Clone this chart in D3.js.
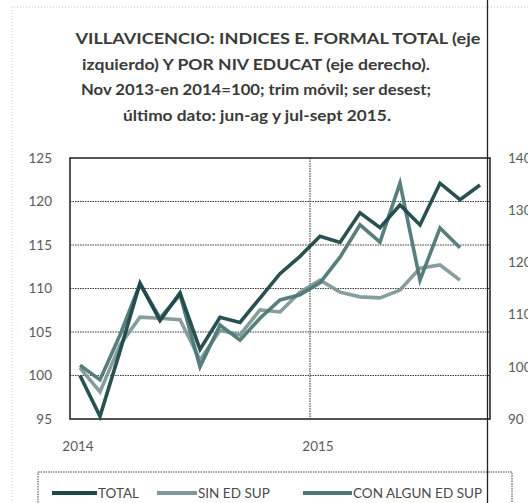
<!DOCTYPE html>
<html>
<head>
<meta charset="utf-8">
<script src="https://cdn.jsdelivr.net/npm/d3@7"></script>
<style>
  body { margin: 0; background: #fff; }
  svg { display: block; font-family: Lato, "Open Sans", sans-serif; }
</style>
</head>
<body>
<div class="card"></div>
<script>
// months, jan 2014 .. sep 2015 (trim movil)
var months = ["ene 2014", "feb 2014", "mar 2014", "abr 2014", "may 2014", "jun 2014",
  "jul 2014", "ago 2014", "sep 2014", "oct 2014", "nov 2014", "dic 2014",
  "ene 2015", "feb 2015", "mar 2015", "abr 2015", "may 2015", "jun 2015",
  "jul 2015", "ago 2015", "sep 2015"]
var xTicks = ["ene 2014", "ene 2015"]
var leftTicks = [95, 100, 105, 110, 115, 120, 125]
var rightTicks = [90, 100, 110, 120, 130, 140]

// eje izquierdo
var total = [100.0, 95.3, 102.8, 110.6, 106.3, 109.5, 103.0, 106.7, 106.1, 108.9, 111.7,
  113.7, 116.0, 115.3, 118.7, 117.0, 119.6, 117.3, 122.1, 120.2, 121.9]
// eje derecho
var sinEdSup = [99.8, 95.2, 104.2, 109.5, 109.3, 109.0, 101.3, 107.0, 106.1, 110.9, 110.5,
  114.3, 116.6, 114.3, 113.4, 113.2, 114.7, 118.9, 119.5, 116.6, null]
var conEdSup = [100.3, 97.5, 106.1, 115.9, 109.3, 113.8, 100.0, 108.0, 105.1, 109.3, 112.8,
  113.8, 116.1, 121.0, 127.2, 123.9, 135.2, 116.6, 126.6, 122.8, null]

var seriesNames = ["TOTAL", "SIN ED SUP", "CON ALGUN ED SUP"]
var colors = ["#1f4848", "#7f9999", "#4f7777"]

var titleLines = ["VILLAVICENCIO: INDICES E. FORMAL TOTAL (eje",
  "izquierdo) Y POR NIV EDUCAT (eje derecho).",
  "Nov 2013-en 2014=100; trim móvil; ser desest;",
  "último dato: jun-ag  y jul-sept 2015."]

var W = 528, H = 503
var margin = { top: 158, right: 38, bottom: 84, left: 70 }
var width = W - margin.left - margin.right
var height = H - margin.top - margin.bottom

var svg = d3.select('.card')
  .append('svg')
  .attr('width', W)
  .attr('height', H)

// outer (chart area) faint border
svg.append('path')
  .attr('d', 'M12,' + H + 'V7H' + W)
  .attr('fill', 'none')
  .attr('stroke', '#c8c8c8')
  .attr('stroke-dasharray', '1,2')

// title
var titleX = [278, 256, 256, 257]
var titleW = [405, 348, 350, 268]
svg.append('g').selectAll('text')
  .data(titleLines)
  .enter()
  .append('text')
  .attr('x', (d, i) => titleX[i])
  .attr('y', (d, i) => 44 + i * 25.5)
  .attr('text-anchor', 'middle')
  .attr('textLength', (d, i) => titleW[i])
  .attr('lengthAdjust', 'spacingAndGlyphs')
  .style('font-size', '14.5px')
  .style('font-weight', 'bold')
  .style('fill', '#3a3a3a')
  .text(d => d)

var g = svg.append('g')
  .attr('transform', `translate(${margin.left}, ${margin.top})`)

var xScale = d3.scaleBand()
  .domain(months)
  .range([0, width])
  .padding(0)

var yLeft = d3.scaleLinear().domain([95, 125]).range([height, 0])
var yRight = d3.scaleLinear().domain([90, 140]).range([height, 0])

// horizontal gridlines
g.append('g')
  .selectAll('line')
  .data(leftTicks.slice(1, -1))
  .enter()
  .append('line')
  .attr('x1', 0)
  .attr('x2', width)
  .attr('y1', d => yLeft(d))
  .attr('y2', d => yLeft(d))
  .attr('stroke', '#3a3a3a')
  .attr('stroke-width', 1.1)
  .attr('stroke-dasharray', '1.5,1')

// vertical gridline (year boundary)
g.append('g')
  .selectAll('line')
  .data(xTicks.slice(1))
  .enter()
  .append('line')
  .attr('x1', d => xScale(d))
  .attr('x2', d => xScale(d))
  .attr('y1', 0)
  .attr('y2', height)
  .attr('stroke', '#3a3a3a')
  .attr('stroke-width', 1.1)
  .attr('stroke-dasharray', '1.5,1')

// left axis
var leftAxis = d3.axisLeft(yLeft).tickValues(leftTicks).tickSize(0).tickPadding(18)
var la = g.append('g').attr('class', 'yAxis').call(leftAxis)
la.select('.domain').remove()
la.selectAll('text').style('font-size', '13.5px').style('fill', '#5a5a5a').style('font-family', 'Lato, sans-serif')

// right axis (cut by the page edge, as in the scan)
var rightAxis = d3.axisRight(yRight).tickValues(rightTicks).tickSize(0).tickPadding(18)
var ra = g.append('g').attr('class', 'yAxis').attr('transform', `translate(${width}, 0)`).call(rightAxis)
ra.select('.domain').remove()
ra.selectAll('text').style('font-size', '13.5px').style('fill', '#5a5a5a').style('font-family', 'Lato, sans-serif')

// x axis
var xAxis = d3.axisBottom(xScale).tickValues(xTicks).tickSize(0).tickPadding(22)
  .tickFormat(d => d.slice(-4))
var xa = g.append('g').attr('class', 'xAxis').attr('transform', `translate(0, ${height})`).call(xAxis)
xa.select('.domain').remove()
xa.selectAll('text').style('font-size', '13.5px').style('fill', '#5a5a5a').style('font-family', 'Lato, sans-serif')
  .attr('dx', '-2')

// plot border
g.append('rect')
  .attr('x', 0)
  .attr('y', 0)
  .attr('width', width)
  .attr('height', height)
  .attr('fill', 'none')
  .attr('stroke', '#2a2a2a')
  .attr('stroke-width', 1.6)

var cx = d => xScale(d) + xScale.bandwidth() / 2

function drawLine(values, yScale, color) {
  var line = d3.line()
    .defined((d, i) => values[i] != null)
    .x((d, i) => cx(months[i]))
    .y((d, i) => yScale(values[i]))
  g.append('path')
    .datum(values)
    .attr('d', line)
    .attr('fill', 'none')
    .attr('stroke', color)
    .attr('stroke-width', 3.6)
    .attr('stroke-linejoin', 'miter')
    .attr('stroke-opacity', 0.95)
}

drawLine(sinEdSup, yRight, colors[1])
drawLine(conEdSup, yRight, colors[2])
drawLine(total, yLeft, colors[0])

// legend
var legend = svg.append('g')
legend.append('rect')
  .attr('x', 38)
  .attr('y', 472)
  .attr('width', 474)
  .attr('height', 40)
  .attr('fill', 'none')
  .attr('stroke', '#444')
  .attr('stroke-width', 1)
  .attr('stroke-dasharray', '1.5,1')

var legX = [52, 157, 303]
var legLen = [45, 40, 49]
var legItem = legend.selectAll('.leg')
  .data(seriesNames)
  .enter()
  .append('g')
  .attr('class', 'leg')
  .attr('transform', (d, i) => `translate(${legX[i]}, 493)`)
legItem.append('line')
  .attr('x1', 0)
  .attr('x2', (d, i) => legLen[i])
  .attr('stroke', (d, i) => colors[i])
  .attr('stroke-width', 4)
legItem.append('text')
  .attr('x', (d, i) => legLen[i] + 1)
  .attr('dy', '0.35em')
  .style('font-size', '13.5px')
  .style('fill', '#4a4a4a')
  .text(d => d)

// scan crop edge
svg.append('line')
  .attr('x1', 487.5)
  .attr('x2', 487.5)
  .attr('y1', 0)
  .attr('y2', H)
  .attr('stroke', '#222')
  .attr('stroke-width', 1.3)
</script>
</body>
</html>
